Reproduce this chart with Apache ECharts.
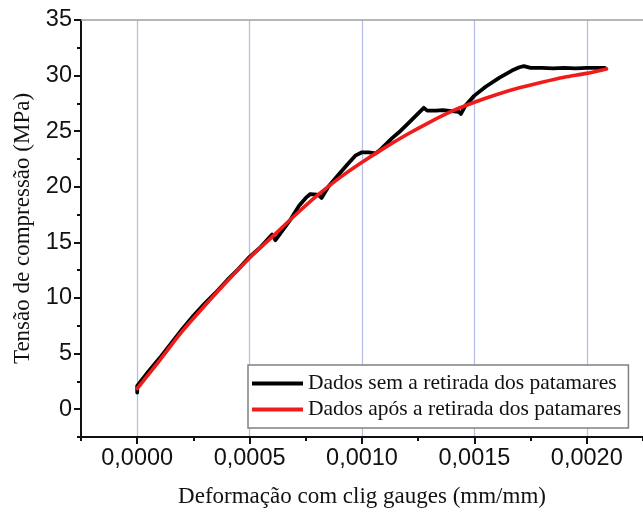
<!DOCTYPE html>
<html>
<head>
<meta charset="utf-8">
<script src="https://cdn.jsdelivr.net/npm/echarts@6/dist/echarts.min.js"></script>
<style>
  html, body { margin: 0; padding: 0; background: #fff; }
  #chart { width: 643px; height: 516px; }
</style>
</head>
<body>
<div id="chart"></div>
<script>
// Strain (mm/mm) and compressive stress (MPa), raw record with the load plateaus
const rawStrain = [0, 0, 0.00005, 0.00010, 0.00015, 0.00020, 0.00025, 0.00030, 0.00035, 0.00040,
  0.00045, 0.00050, 0.00055, 0.00060, 0.000605, 0.000615, 0.00064, 0.00068, 0.00072, 0.00075,
  0.00077, 0.00080, 0.00081, 0.00082, 0.00085, 0.00090, 0.000935, 0.00097, 0.00100, 0.00103,
  0.00106, 0.00108, 0.001135, 0.00117, 0.00121, 0.00125, 0.001275, 0.00129, 0.00133, 0.00136,
  0.00140, 0.00143, 0.00144, 0.00146, 0.00150, 0.00155, 0.00161, 0.001667, 0.00170, 0.00172,
  0.00175, 0.00180, 0.00185, 0.00190, 0.00195, 0.00200, 0.00205, 0.00208];
const rawStress = [1.5, 2.1, 3.4, 4.6, 5.9, 7.2, 8.4, 9.5, 10.5, 11.6,
  12.6, 13.7, 14.6, 15.7, 15.8, 15.2, 15.9, 17.0, 18.3, 19.0,
  19.35, 19.3, 19.2, 19.0, 20.0, 21.2, 22.0, 22.8, 23.1, 23.1,
  23.0, 23.3, 24.4, 25.0, 25.8, 26.6, 27.1, 26.85, 26.85, 26.9,
  26.8, 26.75, 26.55, 27.3, 28.2, 29.0, 29.8, 30.45, 30.75, 30.85,
  30.7, 30.7, 30.65, 30.7, 30.65, 30.7, 30.7, 30.7];

// Same test after the plateaus were removed
const fitStrain = [0, 0.0001, 0.0002, 0.0003, 0.0004, 0.0005, 0.0006, 0.0007, 0.0008, 0.0009,
  0.0010, 0.0011, 0.0012, 0.0013, 0.0014, 0.0015, 0.0016, 0.0017, 0.0018, 0.0019, 0.0020, 0.002088];
const fitStress = [1.85, 4.4, 7.0, 9.3, 11.5, 13.6, 15.5, 17.4, 19.2, 20.8,
  22.2, 23.5, 24.7, 25.8, 26.8, 27.6, 28.3, 28.9, 29.4, 29.85, 30.2, 30.6];

const seriesNames = ['Dados sem a retirada dos patamares', 'Dados após a retirada dos patamares'];

const xMajorTicks = [0, 0.0005, 0.0010, 0.0015, 0.0020];
const xMinorTicks = [-0.00025, 0.00025, 0.00075, 0.00125, 0.00175, 0.00225];
const yMajorTicks = [0, 5, 10, 15, 20, 25, 30, 35];
const yMinorTicks = [-2.5, 2.5, 7.5, 12.5, 17.5, 22.5, 27.5, 32.5];

const xTitle = 'Deformação com clig gauges (mm/mm)';
const yTitle = 'Tensão de compressão (MPa)';

const pairs = (xs, ys) => xs.map((x, i) => [x, ys[i]]);

const X_MIN = -0.00025, X_MAX = 0.00225, Y_MIN = -2.5, Y_MAX = 35;
const tickFont = { fontFamily: 'Liberation Sans, Arial, sans-serif', fontSize: 23.5, color: '#111' };
const titleFont = { fontFamily: 'Liberation Serif, Times New Roman, serif', fontSize: 23, color: '#111' };
const blackAxis = { show: true, onZero: false, lineStyle: { color: '#111', width: 2 } };

const chart = echarts.init(document.getElementById('chart'), null, { renderer: 'canvas' });
chart.setOption({
  animation: false,
  backgroundColor: '#fff',
  grid: { left: 81, right: -2, top: 20, bottom: 79, containLabel: false },
  legend: {
    orient: 'vertical',
    left: 248, top: 365,
    data: seriesNames,
    icon: 'rect',
    itemWidth: 51, itemHeight: 4, itemGap: 4,
    padding: [7.5, 7, 7.5, 4],
    borderColor: '#808080', borderWidth: 1.5,
    backgroundColor: '#fff',
    textStyle: { fontFamily: 'Liberation Serif, Times New Roman, serif', fontSize: 21.5, color: '#111', lineHeight: 22 }
  },
  xAxis: [
    {
      type: 'value', position: 'bottom', min: X_MIN, max: X_MAX,
      name: xTitle, nameLocation: 'middle', nameGap: 48, nameTextStyle: titleFont,
      axisLine: blackAxis,
      axisTick: { show: true, inside: false, length: 7, customValues: xMajorTicks, lineStyle: { color: '#111', width: 2 } },
      axisLabel: { show: true, margin: 10, customValues: xMajorTicks, ...tickFont,
        formatter: v => v.toFixed(4).replace('.', ',') },
      splitLine: { show: true, lineStyle: { color: '#b6c0e6', width: 1.3 } }
    },
    {
      type: 'value', position: 'bottom', min: X_MIN, max: X_MAX,
      axisLine: { show: false, onZero: false },
      axisTick: { show: true, inside: false, length: 4, customValues: xMinorTicks, lineStyle: { color: '#111', width: 2 } },
      axisLabel: { show: false },
      splitLine: { show: false }
    },
    {
      type: 'value', position: 'top', min: X_MIN, max: X_MAX,
      axisLine: { show: true, onZero: false, lineStyle: { color: '#a0a0a0', width: 1.5 } },
      axisTick: { show: false }, axisLabel: { show: false }, splitLine: { show: false }
    }
  ],
  yAxis: [
    {
      type: 'value', position: 'left', min: Y_MIN, max: Y_MAX,
      name: yTitle, nameLocation: 'middle', nameGap: 47, nameRotate: 90, nameTextStyle: titleFont,
      axisLine: blackAxis,
      axisTick: { show: true, inside: false, length: 7, customValues: yMajorTicks, lineStyle: { color: '#111', width: 2 } },
      axisLabel: { show: true, margin: 9, customValues: yMajorTicks, ...tickFont },
      splitLine: { show: false }
    },
    {
      type: 'value', position: 'left', min: Y_MIN, max: Y_MAX,
      axisLine: { show: false, onZero: false },
      axisTick: { show: true, inside: false, length: 4, customValues: yMinorTicks, lineStyle: { color: '#111', width: 2 } },
      axisLabel: { show: false },
      splitLine: { show: false }
    }
  ],
  series: [
    {
      name: seriesNames[0], type: 'line', xAxisIndex: 0, yAxisIndex: 0,
      data: pairs(rawStrain, rawStress),
      showSymbol: false, symbol: 'none',
      lineStyle: { color: '#000', width: 3.8, join: 'round', cap: 'round' },
      itemStyle: { color: '#000' },
      z: 3
    },
    {
      name: seriesNames[1], type: 'line', xAxisIndex: 0, yAxisIndex: 0,
      data: pairs(fitStrain, fitStress),
      smooth: 0.3,
      showSymbol: false, symbol: 'none',
      lineStyle: { color: '#f01c1c', width: 3.6, cap: 'round' },
      itemStyle: { color: '#f01c1c' },
      z: 4
    }
  ]
});
</script>
</body>
</html>
